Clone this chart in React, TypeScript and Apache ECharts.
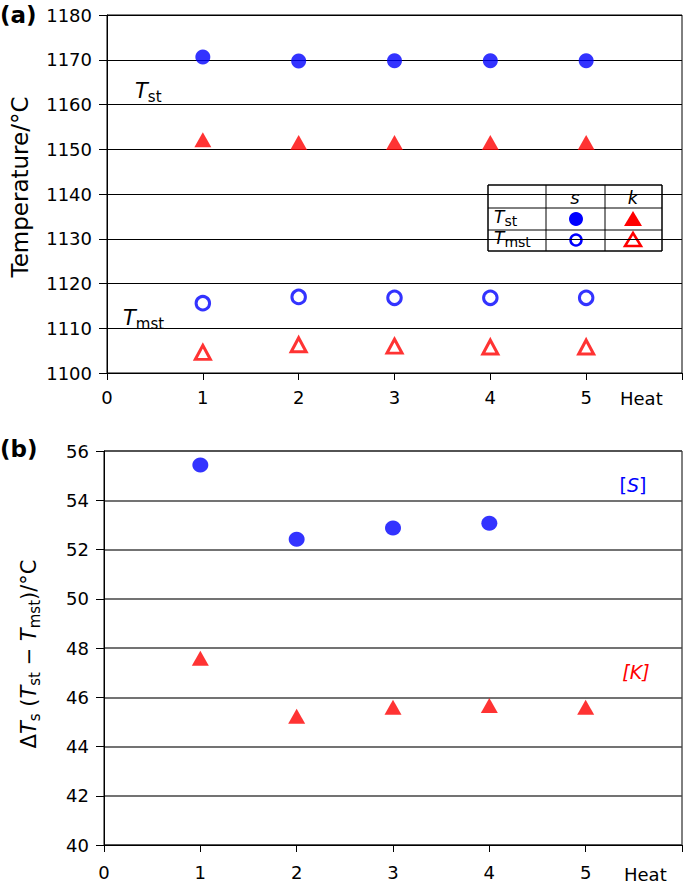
import React, { useEffect, useRef } from "react";
import * as echarts from "echarts";

const heats = [1, 2, 3, 4, 5];
const tstS = [1170.6, 1169.7, 1169.8, 1169.8, 1169.8];
const tstK = [1152.1, 1151.5, 1151.5, 1151.5, 1151.5];
const tmstS = [1115.6, 1117.0, 1116.8, 1116.8, 1116.8];
const tmstK = [1104.6, 1106.3, 1106.0, 1105.8, 1105.8];

const heatsS = [1, 2, 3, 4];
const dS = [55.43, 52.42, 52.87, 53.07];
const dK = [47.58, 45.23, 45.59, 45.67, 45.59];

const FONT = "DejaVu Sans, Liberation Sans, Arial, sans-serif";
const BLUE = "#0000ff";
const RED = "#ff0000";

const pairs = (xs: number[], ys: number[]) => xs.map((x, i) => [x, ys[i]]);

export default function App() {
  const ref = useRef<HTMLDivElement>(null);
  useEffect(() => {
    if (!ref.current) return;
    const chart = echarts.init(ref.current, undefined, { renderer: "svg" });
    const xAxisBase = (gridIndex: number, margin: number) => ({
      type: "value",
      gridIndex,
      min: 0,
      max: 6,
      interval: 1,
      axisLine: { show: true, onZero: false, lineStyle: { color: "#000", width: 1 } },
      axisTick: { show: true, inside: false, length: 7, lineStyle: { color: "#000" } },
      axisLabel: {
        color: "#000",
        fontSize: 18,
        fontFamily: FONT,
        margin,
        formatter: (v: number) => (v === 6 ? "" : String(v)),
      },
      splitLine: { show: false },
    });
    const yLabel = { color: "#000", fontSize: 18, fontFamily: FONT, margin: 15, formatter: (v: number) => String(v) };
    const sub = { fontSize: 15, fontFamily: FONT, color: "#000", padding: [11, 0, 0, 0] };
    const it = { fontSize: 21, fontFamily: FONT, fontStyle: "italic", color: "#000" };
    const norm = { fontSize: 21, fontFamily: FONT, color: "#000" };

    const cols = [488, 546, 605, 662];
    const rows = [185, 208, 230, 251];
    const tableLines: any[] = [];
    rows.forEach((y) =>
      tableLines.push({ type: "line", shape: { x1: cols[0], y1: y, x2: cols[3], y2: y }, style: { stroke: "#000", lineWidth: 1 } })
    );
    cols.forEach((x) =>
      tableLines.push({ type: "line", shape: { x1: x, y1: rows[0], x2: x, y2: rows[3] }, style: { stroke: "#000", lineWidth: 1 } })
    );
    const tsub = { fontSize: 14, fontFamily: FONT, color: "#000", padding: [8, 0, 0, 0] };
    const tit = { fontSize: 17, fontFamily: FONT, fontStyle: "italic", color: "#000" };

    const option: any = {
      animation: false,
      grid: [
        { left: 107, top: 15, width: 576, height: 358, show: true, borderColor: "#000", borderWidth: 1, backgroundColor: "transparent" },
        { left: 104, top: 451, width: 579, height: 394, show: true, borderColor: "#000", borderWidth: 1, backgroundColor: "transparent" },
      ],
      xAxis: [xAxisBase(0, 15), xAxisBase(1, 18)],
      yAxis: [
        {
          type: "value",
          gridIndex: 0,
          min: 1100,
          max: 1180,
          interval: 10,
          axisLine: { show: true, lineStyle: { color: "#000" } },
          axisTick: { show: true, length: 8, lineStyle: { color: "#000" } },
          axisLabel: yLabel,
          splitLine: { show: true, lineStyle: { color: "#000", width: 1 } },
        },
        {
          type: "value",
          gridIndex: 1,
          min: 40,
          max: 56,
          interval: 2,
          axisLine: { show: true, lineStyle: { color: "#000" } },
          axisTick: { show: true, length: 8, lineStyle: { color: "#000" } },
          axisLabel: yLabel,
          splitLine: { show: true, lineStyle: { color: "#444", width: 1.5 } },
        },
      ],
      series: [
        {
          type: "scatter", xAxisIndex: 0, yAxisIndex: 0, data: pairs(heats, tstS),
          symbol: "circle", symbolSize: 15, itemStyle: { color: BLUE },
        },
        {
          type: "scatter", xAxisIndex: 0, yAxisIndex: 0, data: pairs(heats, tstK),
          symbol: "triangle", symbolSize: [17, 15], itemStyle: { color: RED },
        },
        {
          type: "scatter", xAxisIndex: 0, yAxisIndex: 0, data: pairs(heats, tmstS),
          symbol: "circle", symbolSize: 13.5, itemStyle: { color: "#fff", borderColor: BLUE, borderWidth: 3 },
        },
        {
          type: "scatter", xAxisIndex: 0, yAxisIndex: 0, data: pairs(heats, tmstK),
          symbol: "triangle", symbolSize: [15, 14], itemStyle: { color: "#fff", borderColor: RED, borderWidth: 3 },
        },
        {
          type: "scatter", xAxisIndex: 1, yAxisIndex: 1, data: pairs(heatsS, dS),
          symbol: "circle", symbolSize: [16, 15], itemStyle: { color: BLUE },
        },
        {
          type: "scatter", xAxisIndex: 1, yAxisIndex: 1, data: pairs(heats, dK),
          symbol: "triangle", symbolSize: [17, 15], itemStyle: { color: RED },
        },
      ],
      graphic: [
        { type: "text", left: 0, top: 3, style: { text: "(a)", font: `bold 23px ${FONT}`, fill: "#000" } },
        { type: "text", left: 0, top: 437, style: { text: "(b)", font: `bold 23px ${FONT}`, fill: "#000" } },
        {
          type: "text", x: 20, y: 187, rotation: Math.PI / 2,
          style: { text: "Temperature/°C", font: `23px ${FONT}`, fill: "#000", align: "center", verticalAlign: "middle" },
        },
        {
          type: "text", x: 29, y: 654, rotation: Math.PI / 2,
          style: {
            text: "{n|Δ}{i|T}{s|s}{n| (}{i|T}{s|st}{n| − }{i|T}{s|mst}{n|)/°C}",
            align: "center", verticalAlign: "middle",
            rich: { n: norm, i: it, s: sub },
          },
        },
        {
          type: "text", x: 135, y: 91,
          style: { text: "{i|T}{s|st}", verticalAlign: "middle", rich: { i: it, s: sub } },
        },
        {
          type: "text", x: 123, y: 318,
          style: { text: "{i|T}{s|mst}", verticalAlign: "middle", rich: { i: it, s: sub } },
        },
        { type: "text", x: 620, y: 398, style: { text: "Heat", font: `18px ${FONT}`, fill: "#000", verticalAlign: "middle" } },
        { type: "text", x: 624, y: 874, style: { text: "Heat", font: `18px ${FONT}`, fill: "#000", verticalAlign: "middle" } },
        {
          type: "text", x: 633, y: 485,
          style: { text: "[{i|S}]", fill: BLUE, font: `19px ${FONT}`, align: "center", verticalAlign: "middle", rich: { i: { fontSize: 19, fontFamily: FONT, fontStyle: "italic", color: BLUE } } },
        },
        {
          type: "text", x: 636, y: 672,
          style: { text: "[K]", fill: RED, font: `italic 19px ${FONT}`, align: "center", verticalAlign: "middle" },
        },
        { type: "rect", shape: { x: 488, y: 185, width: 174, height: 66 }, style: { fill: "#fff", stroke: "#000", lineWidth: 1 } },
        ...tableLines,
        { type: "text", x: 575, y: 197, style: { text: "s", font: `italic 18px ${FONT}`, fill: "#000", align: "center", verticalAlign: "middle" } },
        { type: "text", x: 633, y: 197, style: { text: "k", font: `italic 18px ${FONT}`, fill: "#000", align: "center", verticalAlign: "middle" } },
        {
          type: "text", x: 494, y: 217,
          style: { text: "{i|T}{s|st}", verticalAlign: "middle", rich: { i: tit, s: tsub } },
        },
        {
          type: "text", x: 494, y: 238,
          style: { text: "{i|T}{s|mst}", verticalAlign: "middle", rich: { i: tit, s: tsub } },
        },
        { type: "circle", shape: { cx: 576, cy: 219, r: 7 }, style: { fill: BLUE } },
        { type: "circle", shape: { cx: 576, cy: 240, r: 5.5 }, style: { fill: "#fff", stroke: BLUE, lineWidth: 2.5 } },
        { type: "polygon", shape: { points: [[633, 211], [624, 226], [642, 226]] }, style: { fill: RED } },
        { type: "polygon", shape: { points: [[633, 233], [625, 246], [641, 246]] }, style: { fill: "#fff", stroke: RED, lineWidth: 2.5 } },
      ],
    };
    chart.setOption(option);
    return () => chart.dispose();
  }, []);
  return <div ref={ref} style={{ width: 685, height: 886, position: "absolute", left: 0, top: 0 }} />;
}
